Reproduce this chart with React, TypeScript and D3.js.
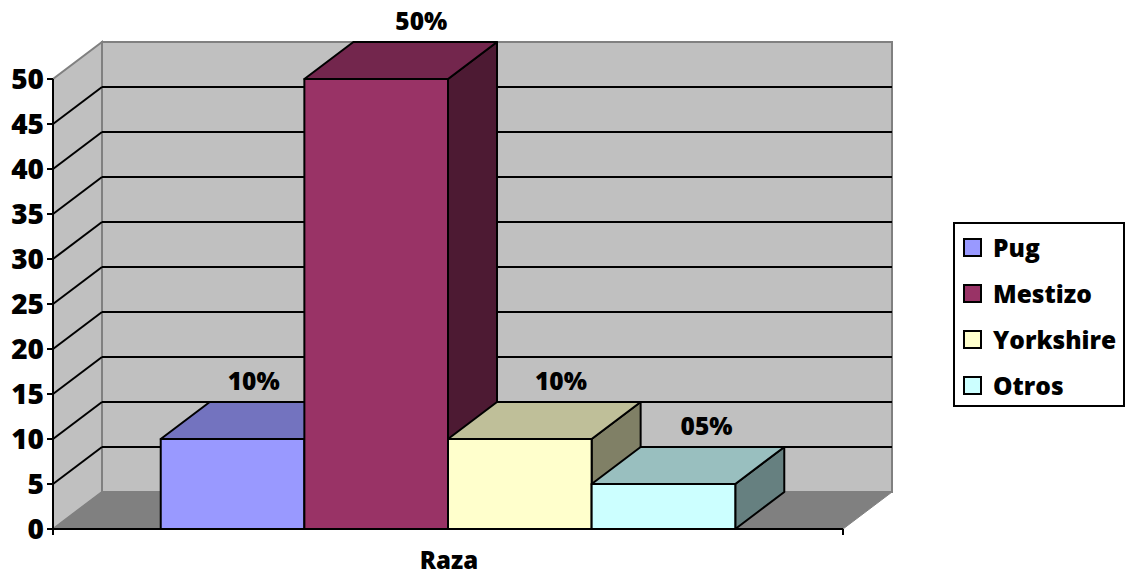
import React from "react";
import * as d3 from "d3";

// Breeds and their share (%)
const breeds = ["Pug", "Mestizo", "Yorkshire", "Otros"];
const shares = [10, 50, 10, 5];
const shareLabels = ["10%", "50%", "10%", "05%"];
const category = ["Raza"];
const yTicks = [0, 5, 10, 15, 20, 25, 30, 35, 40, 45, 50];

const frontColors = ["#9999FF", "#993366", "#FFFFCC", "#CCFFFF"];

const W = 1126;
const H = 576;
const FONT = "'Open Sans', sans-serif";
const WEIGHT = 800;

// 3D projection offset of the chart depth
const DX = 49;
const DY = -37;

const plotLeft = 53;
const plotRight = 843;
const y = d3.scaleLinear().domain([0, 50]).range([529, 79]);

const cat = d3.scaleBand().domain(category).range([plotLeft, plotRight]);
const x = d3
  .scaleBand()
  .domain(breeds)
  .range([cat("Raza")!, cat("Raza")! + cat.bandwidth()])
  .paddingInner(0)
  .paddingOuter(0.75);

// the first label sits further left, clear of the tall neighbour
const labelNudge = [-22, 2, -2, 0];

const shade = (c: string, k: number) => {
  const col = d3.rgb(c);
  return d3.rgb(col.r * k, col.g * k, col.b * k).formatHex();
};

const pts = (p: [number, number][]) => p.map((q) => q.join(",")).join(" ");

export default function App() {
  const y0 = y(0);
  const yTop = y(50);
  const gridVals = yTicks.filter((v) => v > 0 && v < 50);

  return (
    <svg
      width={W}
      height={H}
      style={{ position: "absolute", left: 0, top: 0, background: "#fff" }}
    >
      {/* walls and floor */}
      <polygon
        points={pts([
          [plotLeft + DX, yTop + DY],
          [plotRight + DX, yTop + DY],
          [plotRight + DX, y0 + DY],
          [plotLeft + DX, y0 + DY],
        ])}
        fill="#C0C0C0"
        stroke="#808080"
        strokeWidth={2}
      />
      <polygon
        points={pts([
          [plotLeft, y0],
          [plotLeft + DX, y0 + DY],
          [plotLeft + DX, yTop + DY],
          [plotLeft, yTop],
        ])}
        fill="#C0C0C0"
        stroke="#808080"
        strokeWidth={2}
      />
      <polygon
        points={pts([
          [plotLeft, y0],
          [plotRight, y0],
          [plotRight + DX, y0 + DY],
          [plotLeft + DX, y0 + DY],
        ])}
        fill="#808080"
        stroke="#808080"
        strokeWidth={1}
      />
      {/* gridlines */}
      {gridVals.map((v) => (
        <g key={v}>
          <line
            x1={plotLeft}
            y1={y(v)}
            x2={plotLeft + DX}
            y2={y(v) + DY}
            stroke="#000"
            strokeWidth={2}
          />
          <line
            x1={plotLeft + DX}
            y1={y(v) + DY}
            x2={plotRight + DX}
            y2={y(v) + DY}
            stroke="#000"
            strokeWidth={2}
          />
        </g>
      ))}

      {/* bars */}
      {breeds.map((b, i) => {
        const x0 = x(b)!;
        const x1 = x0 + x.bandwidth();
        const yt = y(shares[i]);
        const c = frontColors[i];
        return (
          <g key={b} stroke="#000" strokeWidth={2} strokeLinejoin="round">
            <polygon
              points={pts([
                [x1, y0],
                [x1 + DX, y0 + DY],
                [x1 + DX, yt + DY],
                [x1, yt],
              ])}
              fill={shade(c, 0.5)}
            />
            <polygon
              points={pts([
                [x0, yt],
                [x1, yt],
                [x1 + DX, yt + DY],
                [x0 + DX, yt + DY],
              ])}
              fill={shade(c, 0.75)}
            />
            <rect x={x0} y={yt} width={x1 - x0} height={y0 - yt} fill={c} />
          </g>
        );
      })}

      {/* value labels */}
      {breeds.map((b, i) => {
        const cx = x(b)! + x.bandwidth() / 2 + DX * 0.88 + labelNudge[i];
        return (
          <text
            key={b}
            x={cx}
            y={y(shares[i]) + DY - 12}
            textAnchor="middle"
            fontFamily={FONT}
            fontWeight={WEIGHT}
            fontSize={24.5}
            fill="#000"
          >
            {shareLabels[i]}
          </text>
        );
      })}

      {/* value axis */}
      <line x1={plotLeft} y1={y0 + 1} x2={plotLeft} y2={yTop} stroke="#000" strokeWidth={2} />
      {yTicks.map((v) => (
        <g key={v}>
          <line x1={plotLeft - 6} y1={y(v)} x2={plotLeft} y2={y(v)} stroke="#000" strokeWidth={2} />
          <text
            x={44}
            y={y(v) + 10}
            textAnchor="end"
            fontFamily={FONT}
            fontWeight={WEIGHT}
            fontSize={28}
            fill="#000"
          >
            {v}
          </text>
        </g>
      ))}

      {/* category axis */}
      <line x1={plotLeft - 1} y1={y0} x2={plotRight} y2={y0} stroke="#000" strokeWidth={2} />
      <line x1={plotLeft} y1={y0} x2={plotLeft} y2={y0 + 6} stroke="#000" strokeWidth={2} />
      <line x1={plotRight} y1={y0} x2={plotRight} y2={y0 + 6} stroke="#000" strokeWidth={2} />
      <text
        x={cat("Raza")! + cat.bandwidth() / 2 + 1}
        y={569}
        textAnchor="middle"
        fontFamily={FONT}
        fontWeight={WEIGHT}
        fontSize={24}
        fill="#000"
      >
        {category[0]}
      </text>

      {/* legend */}
      <rect x={954} y={223} width={170} height={183} fill="#fff" stroke="#000" strokeWidth={2} />
      {breeds.map((b, i) => (
        <g key={b} transform={`translate(964, ${239 + i * 46})`}>
          <rect x={0} y={0} width={17} height={17} fill={frontColors[i]} stroke="#000" strokeWidth={2} />
          <text
            x={29}
            y={18}
            fontFamily={FONT}
            fontWeight={WEIGHT}
            fontSize={24.5}
            fill="#000"
          >
            {b}
          </text>
        </g>
      ))}
    </svg>
  );
}
